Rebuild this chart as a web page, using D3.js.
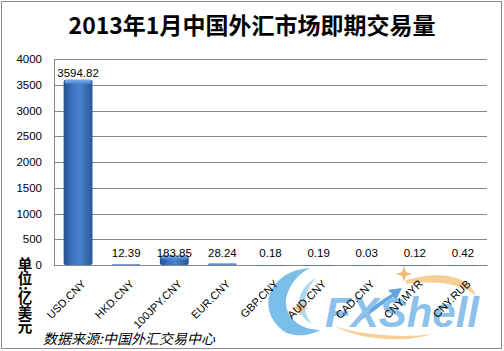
<!DOCTYPE html>
<html>
<head>
<meta charset="utf-8">
<script src="https://cdn.jsdelivr.net/npm/d3@7"></script>
<style>
body { margin: 0; background: #fff; }
svg { display: block; font-family: "Liberation Sans", "DejaVu Sans", sans-serif; }
</style>
</head>
<body>
<svg id="chart" width="504" height="351"></svg>
<script>
// data
var pairs = ["USD.CNY", "HKD.CNY", "100JPY.CNY", "EUR.CNY", "GBP.CNY", "AUD.CNY", "CAD.CNY", "CNY.MYR", "CNY.RUB"];
var volumes = [3594.82, 12.39, 183.85, 28.24, 0.18, 0.19, 0.03, 0.12, 0.42];
var labels = ["3594.82", "12.39", "183.85", "28.24", "0.18", "0.19", "0.03", "0.12", "0.42"];
var yTicks = [0, 500, 1000, 1500, 2000, 2500, 3000, 3500, 4000];

var data = pairs.map(function(p, i){ return {pair: p, value: volumes[i], label: labels[i]}; });

var svg = d3.select("#chart");
var cjk = "'Noto Sans CJK SC', sans-serif";

// outer frame
svg.append("rect")
	.attr("x", 1.5).attr("y", 1.5)
	.attr("width", 500).attr("height", 347)
	.attr("fill", "#fff").attr("stroke", "#8a8a8a");

var plotLeft = 54, plotRight = 487, plotTop = 59, plotBottom = 265;

var x = d3.scaleBand().domain(pairs).range([plotLeft, plotRight]).paddingInner(0.4).paddingOuter(0.2);
var y = d3.scaleLinear().domain([0, 4000]).range([plotBottom, plotTop]);

// gradients for the bars
var defs = svg.append("defs");
var g1 = defs.append("linearGradient").attr("id", "barGrad").attr("x1", 0).attr("x2", 1).attr("y1", 0).attr("y2", 0);
g1.append("stop").attr("offset", "0%").attr("stop-color", "#25518f");
g1.append("stop").attr("offset", "30%").attr("stop-color", "#3d73c0");
g1.append("stop").attr("offset", "55%").attr("stop-color", "#4a83d0");
g1.append("stop").attr("offset", "100%").attr("stop-color", "#2a5698");
var g2 = defs.append("linearGradient").attr("id", "capGrad").attr("x1", 0).attr("x2", 0).attr("y1", 0).attr("y2", 1);
g2.append("stop").attr("offset", "0%").attr("stop-color", "#80ace8");
g2.append("stop").attr("offset", "100%").attr("stop-color", "#4a82cf");

// watermark (drawn behind the axis labels)
var wm = svg.append("g").attr("opacity", 0.8);
wm.append("path")
	.attr("d", "M310,268 C272,270 254,306 282,330 C292,338 310,336 320,330 C296,330 280,312 288,292 C293,280 300,273 310,268 Z")
	.attr("fill", "#5aaee6");
wm.append("path")
	.attr("d", "M316,278 C296,288 292,314 312,324 C302,312 302,294 316,278 Z")
	.attr("fill", "#9ad0f2");
wm.append("path")
	.attr("d", "M300,300 L302,306 L308,308 L302,310 L300,316 L298,310 L292,308 L298,306 Z")
	.attr("fill", "#f2a850");
wm.append("path")
	.attr("d", "M406,280 C440,270 470,276 476,296 C462,284 440,280 406,284 Z")
	.attr("fill", "#f6c27a");
wm.append("path")
	.attr("d", "M404,266 L406,272 L412,274 L406,276 L404,282 L402,276 L396,274 L402,272 Z")
	.attr("fill", "#f2a850");
wm.append("path")
	.attr("d", "M334,326 C364,342 410,342 432,334 C408,338 364,336 334,326 Z")
	.attr("fill", "#f6c27a");
wm.append("path")
	.attr("d", "M352,326 C364,312 378,302 392,294 L388,290 L402,288 L396,300 L393,297 C380,306 368,316 352,326 Z")
	.attr("fill", "#3d8fd8");
wm.append("text")
	.attr("x", 325).attr("y", 327)
	.attr("font-family", "'Liberation Sans', sans-serif")
	.attr("font-weight", "bold").attr("font-style", "italic")
	.attr("font-size", 42)
	.attr("fill", "#6fb2e6")
	.text("FXShell");

// title
svg.append("text")
	.attr("x", 252).attr("y", 34)
	.attr("text-anchor", "middle")
	.attr("font-family", cjk)
	.attr("font-weight", "bold")
	.attr("font-size", 23)
	.text("2013年1月中国外汇市场即期交易量");

// grid lines
svg.append("g").selectAll("line")
	.data(yTicks)
	.enter().append("line")
	.attr("x1", plotLeft).attr("x2", plotRight)
	.attr("y1", function(d){ return Math.round(y(d)) + 0.5; })
	.attr("y2", function(d){ return Math.round(y(d)) + 0.5; })
	.attr("stroke", "#868686");

// y axis
var yAxis = svg.append("g")
	.attr("transform", "translate(" + plotLeft + ",0)")
	.call(d3.axisLeft(y).tickValues(yTicks).tickFormat(d3.format("d")).tickSize(0).tickPadding(12));
yAxis.select(".domain").attr("stroke", "#868686");
yAxis.selectAll("text").attr("font-size", 11.5).attr("fill", "#000");

// x axis
var xAxis = svg.append("g")
	.attr("transform", "translate(0," + plotBottom + ")")
	.call(d3.axisBottom(x).tickSize(0).tickFormat(""));
xAxis.select(".domain").attr("stroke", "#868686");

svg.append("g").selectAll("text")
	.data(pairs)
	.enter().append("text")
	.attr("transform", function(d){ return "translate(" + (x(d) + x.bandwidth() / 2 + 3) + "," + (plotBottom + 14) + ") rotate(-45)"; })
	.attr("text-anchor", "end")
	.attr("dy", "0.7em")
	.attr("font-size", 11)
	.text(function(d){ return d; });

// bars
var bars = svg.append("g").selectAll("g.bar")
	.data(data)
	.enter().append("g").attr("class", "bar");
bars.append("rect")
	.attr("x", function(d){ return x(d.pair); })
	.attr("y", function(d){ return y(d.value); })
	.attr("width", x.bandwidth())
	.attr("height", function(d){ return Math.max(plotBottom - y(d.value), 0.6); })
	.attr("rx", 2)
	.attr("fill", "url(#barGrad)");
bars.append("rect")
	.attr("x", function(d){ return x(d.pair) + 1; })
	.attr("y", function(d){ return y(d.value); })
	.attr("width", x.bandwidth() - 2)
	.attr("height", function(d){ return Math.min(4, Math.max(plotBottom - y(d.value), 0)); })
	.attr("rx", 2)
	.attr("fill", "url(#capGrad)");

// value labels
svg.append("g").selectAll("text")
	.data(data)
	.enter().append("text")
	.attr("x", function(d){ return x(d.pair) + x.bandwidth() / 2; })
	.attr("y", function(d){ return d.value > 500 ? y(d.value) - 3 : plotBottom - 8; })
	.attr("text-anchor", "middle")
	.attr("font-size", 11.5)
	.text(function(d){ return d.label; });

// y axis title, stacked vertically
svg.append("text")
	.attr("x", 25).attr("y", 257)
	.attr("font-family", cjk)
	.attr("font-weight", "bold")
	.attr("font-size", 14.5)
	.style("writing-mode", "vertical-rl")
	.text("单位:亿美元");

// source note
svg.append("text")
	.attr("x", 43).attr("y", 344)
	.attr("font-family", cjk)
	.attr("font-style", "italic")
	.attr("font-size", 14)
	.text("数据来源:中国外汇交易中心");
</script>
</body>
</html>
